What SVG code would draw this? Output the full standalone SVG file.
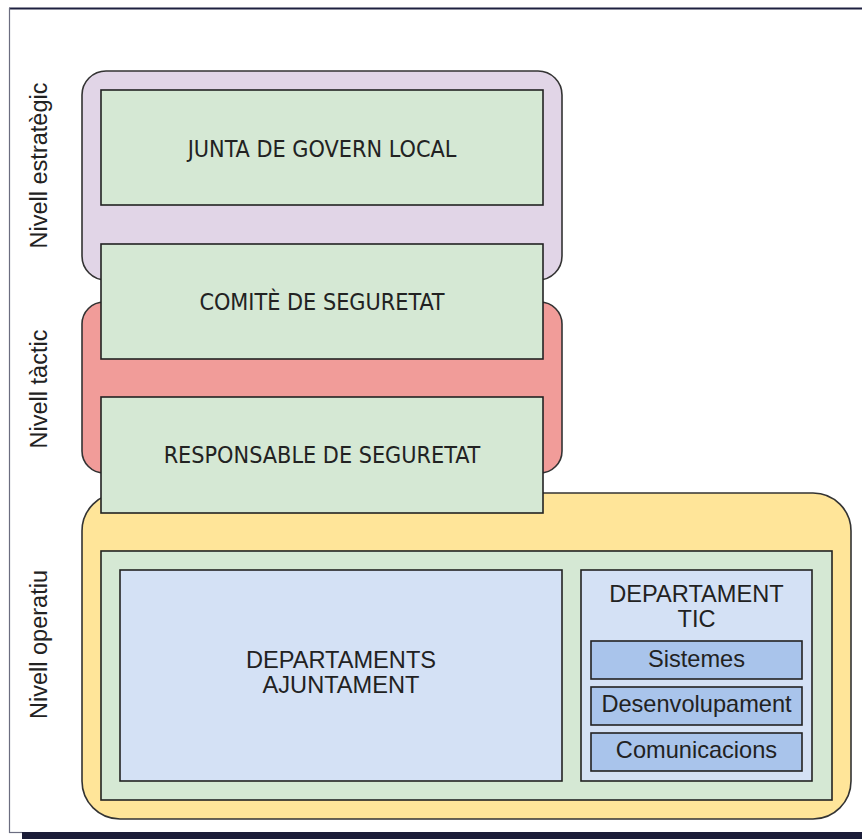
<svg xmlns="http://www.w3.org/2000/svg" width="862" height="839" viewBox="0 0 862 839">
  <style>
    .box { stroke: #222; stroke-width: 1.6; }
    .lvl { stroke: #333; stroke-width: 1.6; }
    .cond { font-family: "DejaVu Sans Condensed", "DejaVu Sans", sans-serif; font-size: 23.2px; fill: #222; text-anchor: middle; }
    .sans { font-family: "Liberation Sans", Arial, sans-serif; font-size: 23.6px; fill: #222; text-anchor: middle; }
    .side { font-family: "Liberation Sans", Arial, sans-serif; font-size: 23.5px; fill: #222; text-anchor: middle; }
  </style>

  <!-- page frame with its shadow edge -->
  <rect x="0" y="0" width="862" height="839" fill="#ffffff"/>
  <line x1="9" y1="8.5" x2="862" y2="8.5" stroke="#1e2040" stroke-width="2"/>
  <line x1="9.5" y1="8" x2="9.5" y2="833" stroke="#6b6d80" stroke-width="1.2"/>
  <line x1="9" y1="832.5" x2="22" y2="832.5" stroke="#6b6d80" stroke-width="1.2"/>
  <rect x="22" y="832" width="840" height="7" fill="#1b1d38"/>

  <!-- level bands -->
  <g id="level-strategic">
    <rect class="lvl" x="82" y="71" width="480" height="209" rx="24" ry="24" fill="#e1d5e7"/>
    <text class="side" transform="translate(47,165.5) rotate(-90)">Nivell estratègic</text>
  </g>
  <g id="level-tactical">
    <rect class="lvl" x="82" y="302" width="480" height="171" rx="22" ry="22" fill="#f19c99"/>
    <text class="side" transform="translate(47,389) rotate(-90)">Nivell tàctic</text>
  </g>
  <g id="level-operational">
    <rect class="lvl" x="82" y="493" width="769" height="326" rx="38" ry="38" fill="#ffe599"/>
    <text class="side" transform="translate(47,644.5) rotate(-90)">Nivell operatiu</text>
  </g>

  <!-- governance bodies -->
  <g id="junta">
    <rect class="box" x="101" y="90" width="442" height="115" fill="#d5e8d4"/>
    <text class="cond" x="322" y="156.5">JUNTA DE GOVERN LOCAL</text>
  </g>
  <g id="comite">
    <rect class="box" x="101" y="244" width="442" height="115" fill="#d5e8d4"/>
    <text class="cond" x="322" y="310">COMITÈ DE SEGURETAT</text>
  </g>
  <g id="responsable">
    <rect class="box" x="101" y="397" width="442" height="116" fill="#d5e8d4"/>
    <text class="cond" x="322" y="463">RESPONSABLE DE SEGURETAT</text>
  </g>

  <!-- operational departments -->
  <g id="departaments">
    <rect class="box" x="101" y="551" width="731" height="249" fill="#d5e8d4"/>
  </g>
  <g id="departaments-ajuntament">
    <rect class="box" x="120" y="570" width="442" height="211" fill="#d4e1f5"/>
    <text class="sans" x="341" y="668">DEPARTAMENTS</text>
    <text class="sans" x="341" y="693">AJUNTAMENT</text>
  </g>
  <g id="departament-tic">
    <rect class="box" x="581" y="570" width="231" height="211" fill="#d4e1f5"/>
    <text class="sans" x="696.5" y="601.5">DEPARTAMENT</text>
    <text class="sans" x="696.5" y="626.5">TIC</text>
  </g>
  <g id="sistemes">
    <rect class="box" x="591" y="641" width="211" height="38" fill="#a9c4eb"/>
    <text class="sans" x="696.5" y="667">Sistemes</text>
  </g>
  <g id="desenvolupament">
    <rect class="box" x="591" y="687" width="211" height="38" fill="#a9c4eb"/>
    <text class="sans" x="696.5" y="712">Desenvolupament</text>
  </g>
  <g id="comunicacions">
    <rect class="box" x="591" y="733" width="211" height="38" fill="#a9c4eb"/>
    <text class="sans" x="696.5" y="758">Comunicacions</text>
  </g>

  <g id="connectors"></g>
</svg>
